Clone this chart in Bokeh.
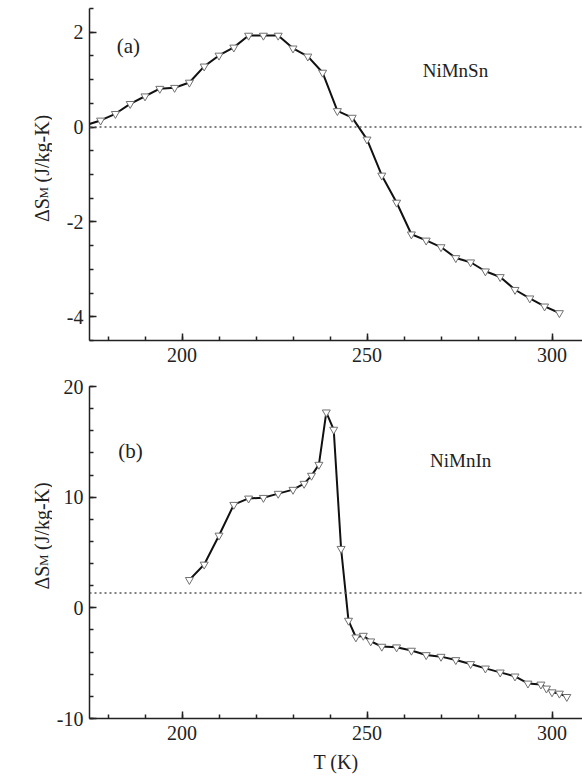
import math
from bokeh.plotting import figure
from bokeh.layouts import column, row
from bokeh.models import FixedTicker, Label, Span
from bokeh.embed import file_html
from bokeh.resources import INLINE

# Magnetic entropy change vs temperature
sn_T = [174, 178, 182, 186, 190, 194, 198, 202, 206, 210, 214, 218, 222, 226, 230,
        234, 238, 242, 246, 250, 254, 258, 262, 266, 270, 274, 278, 282, 286, 290,
        294, 298, 302]
sn_dS = [0.04, 0.14, 0.28, 0.49, 0.65, 0.81, 0.83, 0.94, 1.28, 1.51, 1.68, 1.93, 1.93,
         1.93, 1.66, 1.49, 1.15, 0.34, 0.20, -0.26, -1.02, -1.59, -2.26, -2.39, -2.53,
         -2.76, -2.85, -3.04, -3.16, -3.43, -3.61, -3.78, -3.92]

in_T = [202, 206, 210, 214, 218, 222, 226, 230, 233, 235, 237, 239, 241, 243, 245,
        247, 249, 251, 254, 258, 262, 266, 270, 274, 278, 282, 286, 290, 293.5, 297,
        298.5, 300, 302, 304]
in_dS = [2.53, 3.92, 6.54, 9.32, 9.89, 9.95, 10.32, 10.68, 11.22, 11.95, 12.94, 17.67,
         16.11, 5.34, -1.15, -2.66, -2.51, -3.02, -3.50, -3.56, -3.86, -4.26, -4.41,
         -4.71, -5.07, -5.47, -5.83, -6.19, -6.83, -6.92, -7.28, -7.62, -7.74, -8.04]

sn_ref_level = 0.0
in_ref_level = 1.35

x_major = [200, 250, 300]
x_minor = list(range(180, 310, 10))
sn_y_major = [-4, -2, 0, 2]
sn_y_minor = [v / 2 for v in range(-9, 6)]
in_y_major = [-10, 0, 10, 20]
in_y_minor = list(range(-10, 21, 2))

SERIF = "Times"
INK = "#222222"
LABEL_W = 52          # strip holding the rotated y titles
FRAME_W, FRAME_H = 493, 332
TOTAL_H = 778
X_RANGE = (175, 175 + FRAME_W / 3.7)


def make_panel(T, dS, ref, y_range, y_major, y_minor, tag, tag_xy, name, name_xy,
               top, bottom, xlabel=None):
    p = figure(frame_width=FRAME_W, frame_height=FRAME_H,
               x_range=X_RANGE, y_range=y_range,
               min_border_left=89 - LABEL_W, min_border_right=0,
               min_border_top=top, min_border_bottom=bottom,
               output_backend="svg", toolbar_location=None)
    p.outline_line_color = None
    p.grid.visible = False

    for ax in (p.xaxis[0], p.yaxis[0]):
        ax.axis_line_width = 1.5
        ax.axis_line_color = INK
        ax.major_tick_line_width = 1.5
        ax.major_tick_line_color = INK
        ax.minor_tick_line_width = 1.5
        ax.minor_tick_line_color = INK
        ax.major_tick_in = 7
        ax.major_tick_out = 0
        ax.minor_tick_in = 4
        ax.minor_tick_out = 0
        ax.major_label_text_font = SERIF
        ax.major_label_text_font_size = "20px"
        ax.major_label_text_color = INK
    p.xaxis.major_label_standoff = 7
    p.yaxis.major_label_standoff = 6

    p.xaxis.ticker = FixedTicker(ticks=x_major, minor_ticks=x_minor)
    p.yaxis.ticker = FixedTicker(ticks=y_major, minor_ticks=y_minor)
    p.yaxis.major_label_overrides = {v: str(v) for v in y_major}

    if xlabel:
        p.xaxis.axis_label = xlabel
        p.xaxis.axis_label_text_font = SERIF
        p.xaxis.axis_label_text_font_size = "20px"
        p.xaxis.axis_label_text_font_style = "normal"
        p.xaxis.axis_label_text_color = INK
        p.xaxis.axis_label_standoff = 8

    # horizontal dotted reference line
    p.add_layout(Span(location=ref, dimension="width", line_color="#555555",
                      line_width=1.5, line_dash="2 3"))

    p.line(T, dS, line_color="#111111", line_width=2)
    p.scatter(T, dS, marker="inverted_triangle", size=8, fill_color="white",
              line_color="#707070", line_width=1)

    p.add_layout(Label(x=tag_xy[0], y=tag_xy[1], text=tag, text_font=SERIF,
                       text_font_size="21px", text_color=INK,
                       text_align="center", text_baseline="middle"))
    p.add_layout(Label(x=name_xy[0], y=name_xy[1], text=name, text_font=SERIF,
                       text_font_size="19px", text_color=INK,
                       text_align="center", text_baseline="middle"))
    return p


top = make_panel(sn_T, sn_dS, sn_ref_level, (-4.5, 2.5), sn_y_major, sn_y_minor,
                 "(a)", (185.5, 1.70), "NiMnSn", (273.9, 1.19),
                 top=8, bottom=34)
bot = make_panel(in_T, in_dS, in_ref_level, (-10, 20), in_y_major, in_y_minor,
                 "(b)", (186.1, 14.2), "NiMnIn", (275.3, 13.3),
                 top=12, bottom=60, xlabel="T (K)")

# Left strip with the rotated y titles: "ΔS" + subscript "M" + "(J/kg-K)"
lab = figure(width=LABEL_W, height=TOTAL_H, x_range=(0, LABEL_W), y_range=(0, TOTAL_H),
             min_border=0, x_axis_type=None, y_axis_type=None,
             output_backend="svg", toolbar_location=None)
lab.outline_line_color = None
lab.grid.visible = False

title_starts = [221.5, 589.0]       # distance from page top where each title begins
pieces = [("ΔS", "20px", 41, 0.0), ("M", "13px", 42.5, 23.5), ("(J/kg-K)", "20px", 41, 39.5)]
for start in title_starts:
    for txt, size, bx, along in pieces:
        lab.add_layout(Label(x=bx, y=TOTAL_H - (start - along), text=txt,
                             text_font=SERIF, text_font_size=size, text_color=INK,
                             angle=math.pi / 2, text_align="left",
                             text_baseline="alphabetic"))

layout = row(lab, column(top, bot, spacing=0), spacing=0)
open("out.html", "w").write(file_html(layout, INLINE))
